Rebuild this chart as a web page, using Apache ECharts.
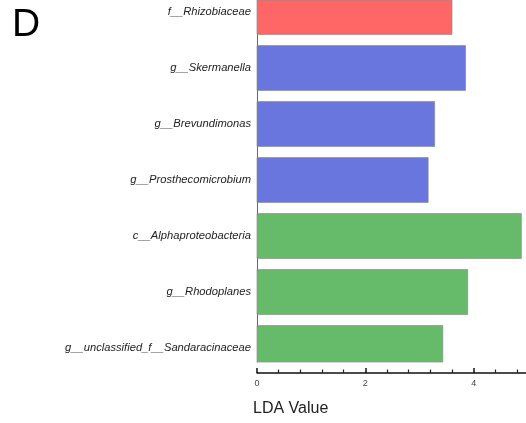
<!DOCTYPE html>
<html>
<head>
<meta charset="utf-8">
<script src="https://cdn.jsdelivr.net/npm/echarts@6/dist/echarts.min.js"></script>
<style>
  html, body { margin: 0; padding: 0; background: #fff; }
  #chart { width: 526px; height: 423px; }
</style>
</head>
<body>
<div id="chart"></div>
<script>
// Taxa ranked by LDA effect size
const categories = [
  'f__Rhizobiaceae',
  'g__Skermanella',
  'g__Brevundimonas',
  'g__Prosthecomicrobium',
  'c__Alphaproteobacteria',
  'g__Rhodoplanes',
  'g__unclassified_f__Sandaracinaceae'
];
const ldaValues = [3.60, 3.85, 3.28, 3.16, 4.88, 3.89, 3.43];
const groupOf = [0, 1, 1, 1, 2, 2, 2];
const groupColors = ['#FF6666', '#6876DD', '#66BB6A'];
const xTicks = [0, 2, 4];

const rows = ldaValues.map((v, i) => [v, i, groupOf[i]]);

const chart = echarts.init(document.getElementById('chart'));

chart.setOption({
  animation: false,
  backgroundColor: '#fff',
  grid: { left: 257, top: 0, width: 325, height: 362, outerBoundsMode: 'none', containLabel: false },
  graphic: [
    {
      type: 'text', left: 12, top: 6,
      style: { text: 'D', fontSize: 39, fontFamily: 'Liberation Sans, Arial, sans-serif', fill: '#000' }
    },
    {
      type: 'text', left: 253, top: 401,
      style: { text: 'LDA Value', fontSize: 16, fontFamily: 'Liberation Sans, Arial, sans-serif', fill: '#222' }
    }
  ],
  xAxis: {
    type: 'value',
    position: 'bottom',
    min: 0,
    max: 6,
    interval: 2,
    offset: 11,
    axisLine: { show: true, onZero: false, lineStyle: { color: '#111', width: 1.5 } },
    axisTick: { show: true, inside: true, length: 5, lineStyle: { color: '#111', width: 1.5 } },
    minorTick: { show: true, splitNumber: 5, length: 3.5, lineStyle: { color: '#222', width: 1.2 } },
    axisLabel: {
      margin: 6, fontSize: 9, color: '#444',
      fontFamily: 'Liberation Sans, Arial, sans-serif',
      customValues: xTicks
    },
    splitLine: { show: false }
  },
  yAxis: {
    type: 'value',
    inverse: true,
    min: -0.2143,
    max: 6.25,
    axisLine: { show: true, onZero: false, lineStyle: { color: '#666', width: 1 } },
    axisTick: { show: false },
    splitLine: { show: false },
    axisLabel: {
      customValues: categories.map((_, i) => i),
      formatter: (v) => categories[Math.round(v)],
      margin: 6,
      fontSize: 11.2,
      fontStyle: 'italic',
      color: '#222',
      fontFamily: 'Liberation Sans, Arial, sans-serif'
    }
  },
  series: [{
    type: 'custom',
    data: rows,
    encode: { x: 0, y: 1 },
    renderItem: function (params, api) {
      const idx = api.value(1);
      const start = api.coord([0, idx]);
      const end = api.coord([api.value(0), idx]);
      const barH = api.size([0, 1])[1] * 0.8;
      const cs = params.coordSys;
      const shape = echarts.graphic.clipRectByRect(
        { x: start[0], y: start[1] - barH / 2, width: end[0] - start[0], height: barH },
        { x: cs.x, y: cs.y, width: cs.width, height: cs.height }
      );
      if (!shape) return null;
      return {
        type: 'rect',
        shape: shape,
        style: {
          fill: groupColors[api.value(2)],
          stroke: 'rgba(140,140,140,0.7)',
          lineWidth: 1
        }
      };
    }
  }]
});
</script>
</body>
</html>
